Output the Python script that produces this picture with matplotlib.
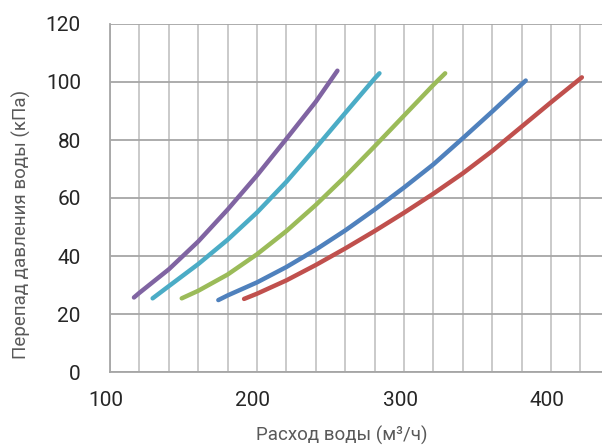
import numpy as np
import matplotlib.pyplot as plt
import matplotlib.transforms as mtransforms

plt.rcParams['font.family'] = ['Roboto', 'DejaVu Sans']

# water flow (m3/h) vs pressure drop (kPa)
flowPurple = [116.3, 120, 140, 160, 180, 200, 220, 240, 254.7]
dpPurple = [25.7, 27.3, 35.4, 45.0, 56.0, 67.8, 80.4, 93.2, 103.9]

flowCyan = [129, 140, 160, 180, 200, 220, 240, 260, 280, 283.3]
dpCyan = [25.4, 29.6, 37.2, 45.6, 55.0, 65.6, 77.3, 89.3, 101.2, 103.0]

flowGreen = [148.8, 160, 180, 200, 220, 240, 260, 280, 300, 320, 328]
dpGreen = [25.4, 28.0, 33.6, 40.6, 48.6, 57.6, 67.4, 77.8, 88.4, 99.0, 103.0]

flowBlue = [173.7, 180, 200, 220, 240, 260, 280, 300, 320, 340, 360, 382.8]
dpBlue = [24.8, 26.4, 30.9, 36.2, 42.2, 48.8, 56.0, 63.6, 71.6, 80.6, 89.8, 100.5]

flowRed = [191.2, 200, 220, 240, 260, 280, 300, 320, 340, 360, 380, 400, 421]
dpRed = [25.2, 27.0, 31.6, 36.9, 42.6, 48.6, 54.9, 61.5, 68.5, 76.2, 84.6, 93.0, 101.6]

seriesList = [
    (flowPurple, dpPurple, '#8064A2'),
    (flowCyan, dpCyan, '#4BACC6'),
    (flowGreen, dpGreen, '#9BBB59'),
    (flowBlue, dpBlue, '#4F81BD'),
    (flowRed, dpRed, '#C0504D'),
]

xTicks = np.arange(100, 440, 20)
yTicks = np.arange(0, 121, 20)

fig = plt.figure(figsize=(6.02, 4.46), dpi=100)
ax = fig.add_axes([110/602, 74/446, 492/602, 348/446])

for flow, dp, color in seriesList:
    ax.plot(flow, dp, color=color, lw=3.2, solid_capstyle='round',
            solid_joinstyle='round', zorder=3)

ax.set_xlim(100, 100 + 492/1.47)
ax.set_ylim(0, 120)

# vertical grid every 20, labels only on the hundreds
ax.set_xticks(xTicks)
ax.set_xticklabels([str(t) if t % 100 == 0 else '' for t in xTicks])
ax.set_yticks(yTicks)
ax.grid(axis='x', color='#c6c6c6', lw=1.3)
ax.grid(axis='y', color='#a6a6a6', lw=1.3)
ax.set_axisbelow(True)

ax.tick_params(axis='both', length=0, labelsize=15, labelcolor='#262626')
ax.tick_params(axis='x', pad=14)
ax.tick_params(axis='y', pad=21)

# labels sit a little left of their gridlines in the original
shift = mtransforms.ScaledTranslation(-4/100, 0, fig.dpi_scale_trans)
for lbl in ax.get_xticklabels():
    lbl.set_transform(lbl.get_transform() + shift)

for side in ['top', 'right']:
    ax.spines[side].set_visible(False)
for side in ['left', 'bottom']:
    ax.spines[side].set_color('#a6a6a6')
    ax.spines[side].set_linewidth(1.3)

fig.text(342/602, 1 - 435/446, 'Расход воды (м³/ч)', ha='center', va='center',
         fontsize=13.5, color='#595959')
fig.text(21/602, 1 - 224/446, 'Перепад давления воды (кПа)', ha='center',
         va='center', rotation=90, fontsize=13.5, color='#595959')

fig.savefig('out.png', dpi=100)
